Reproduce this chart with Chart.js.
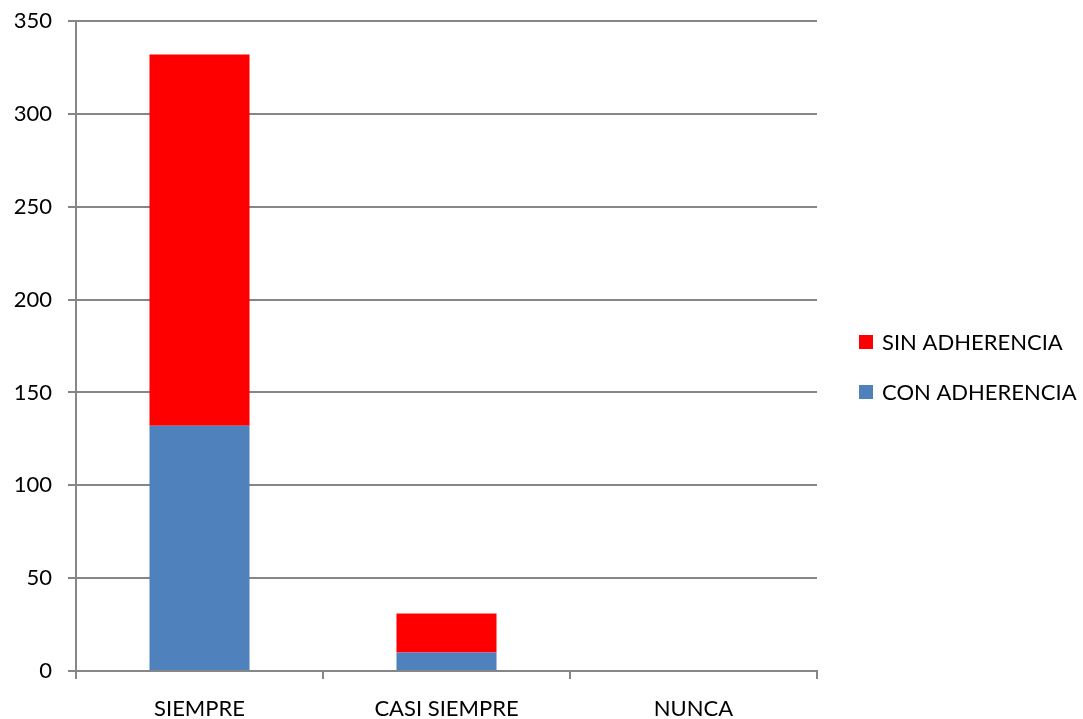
<!DOCTYPE html>
<html>
<head>
<meta charset="utf-8">
<script src="https://cdn.jsdelivr.net/npm/chart.js@4"></script>
<style>
  html, body { margin: 0; padding: 0; background: #ffffff; }
  #wrap { width: 1083px; height: 719px; }
</style>
</head>
<body>
<div id="wrap"><canvas id="c" width="1083" height="719"></canvas></div>
<script>
// Categories and stacked series
const categories = ['SIEMPRE', 'CASI SIEMPRE', 'NUNCA'];
const conAdherencia = [132, 10, 0];
const sinAdherencia = [200, 21, 0];
const seriesNames = ['CON ADHERENCIA', 'SIN ADHERENCIA'];
const yTicks = [0, 50, 100, 150, 200, 250, 300, 350];

const FONT = 'Lato, "Open Sans", "DejaVu Sans", sans-serif';
const GRID = '#868686';

// Legend drawn at the right, top entry = last stacked series
const sideLegend = {
  id: 'sideLegend',
  afterDraw(chart) {
    const ctx = chart.ctx;
    const ds = chart.data.datasets.slice().reverse();
    const x = 859, y0 = 342, step = 50, box = 14;
    ctx.save();
    ctx.font = '22px ' + FONT;
    ctx.textBaseline = 'middle';
    ctx.textAlign = 'left';
    ds.forEach((d, i) => {
      const y = y0 + i * step;
      ctx.fillStyle = d.backgroundColor;
      ctx.fillRect(x, y - box / 2, box, box);
      ctx.fillStyle = '#000000';
      ctx.fillText(d.label, x + 23, y + 1);
    });
    ctx.restore();
  }
};

new Chart(document.getElementById('c'), {
  type: 'bar',
  data: {
    labels: categories,
    datasets: [
      { label: seriesNames[0], data: conAdherencia, backgroundColor: '#4F81BD',
        categoryPercentage: 1, barPercentage: 0.405 },
      { label: seriesNames[1], data: sinAdherencia, backgroundColor: '#FF0000',
        categoryPercentage: 1, barPercentage: 0.405 }
    ]
  },
  options: {
    responsive: false,
    animation: false,
    layout: { padding: { top: 21, right: 266, left: 0, bottom: 0 } },
    plugins: { legend: { display: false }, tooltip: { enabled: false } },
    scales: {
      x: {
        stacked: true,
        afterFit(scale) { scale.height = 48; scale.paddingLeft = 0; scale.paddingRight = 0; },
        grid: { offset: true, drawOnChartArea: false, drawTicks: true, tickLength: 8,
                color: GRID, lineWidth: 2 },
        border: { display: true, color: GRID, width: 2 },
        ticks: { color: '#000000', font: { family: FONT, size: 22 }, padding: 17, maxRotation: 0 }
      },
      y: {
        stacked: true,
        min: 0, max: 350,
        afterFit(scale) { scale.width = 76; scale.paddingTop = 0; scale.paddingBottom = 0; },
        afterBuildTicks(scale) { scale.ticks = yTicks.map(v => ({ value: v })); },
        grid: { color: GRID, lineWidth: 2, drawTicks: true, tickLength: 8 },
        border: { display: true, color: GRID, width: 2 },
        ticks: { color: '#000000', font: { family: FONT, size: 22 }, padding: 16 }
      }
    }
  },
  plugins: [sideLegend]
});
</script>
</body>
</html>
